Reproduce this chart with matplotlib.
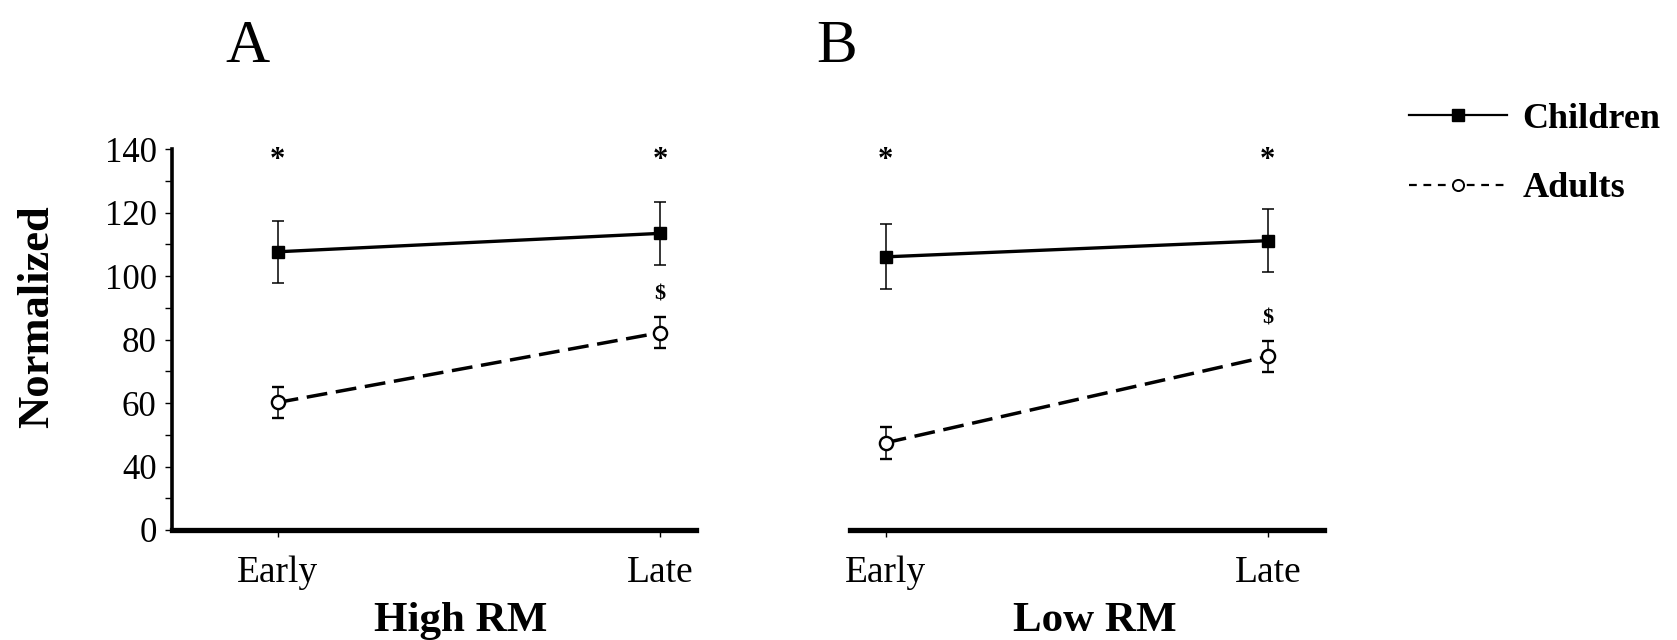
import matplotlib
matplotlib.use("Agg")
import matplotlib.pyplot as plt
from matplotlib.lines import Line2D

plt.rcParams["font.family"] = ["Liberation Serif", "DejaVu Serif"]

# values (normalized units)
phases = ["Early", "Late"]
x_pos = [0, 1]

children_high = [107.7, 113.5]
children_high_err = [9.7, 10.0]
adults_high = [60.2, 82.2]
adults_high_err = [5.0, 4.9]

children_low = [106.1, 111.2]
children_low_err = [10.2, 10.0]
adults_low = [47.5, 74.7]
adults_low_err = [5.0, 4.9]

ytick_vals = [20, 40, 60, 80, 100, 120, 140]
ytick_labels = ["0", "40", "60", "80", "100", "120", "140"]
ytick_minor = [30, 50, 70, 90, 110, 130]

STAR_Y = 136.6
DASH = (0, (6, 2.5))

W, H = 1677, 640


def draw_panel(ax, children, children_err, adults, adults_err, xlim, xlabel, label_x):
    ax.errorbar(
        x_pos, children, yerr=children_err,
        color="black", lw=2.4, marker="s", ms=9,
        ecolor="black", elinewidth=1.1, capsize=4, capthick=1.1, zorder=3,
    )
    ax.errorbar(
        x_pos, adults, yerr=adults_err,
        color="black", lw=2.5, ls=DASH, marker="o", ms=9.5,
        mfc="white", mec="black", mew=1.7,
        ecolor="black", elinewidth=1.1, capsize=4, capthick=1.1, zorder=3,
    )

    # significance marks
    for x in x_pos:
        ax.text(x, STAR_Y, "*", ha="center", va="center",
                fontsize=22, fontweight="bold")
    ax.text(x_pos[1], adults[1] + adults_err[1] + 7, "$", ha="center",
            va="center", fontsize=16, fontweight="bold", parse_math=False)

    ax.set_xlim(*xlim)
    ax.set_ylim(20, 140)
    ax.set_xticks(x_pos, phases)
    ax.tick_params(axis="x", direction="out", length=5, width=1,
                   labelsize=27, pad=13)

    ax.spines["top"].set_visible(False)
    ax.spines["right"].set_visible(False)
    ax.spines["bottom"].set_linewidth(3.8)

    ax.set_xlabel(xlabel, fontsize=31, fontweight="bold", va="top")
    ax.xaxis.set_label_coords(label_x, -0.189)


fig = plt.figure(figsize=(W / 100, H / 100), dpi=100)
ax_a = fig.add_axes([172 / W, 110 / H, 524 / W, 380.7 / H])
ax_b = fig.add_axes([850 / W, 110 / H, 474 / W, 380.7 / H])

draw_panel(ax_a, children_high, children_high_err, adults_high, adults_high_err,
           (-0.2765, 1.094), "High RM", 0.5515)
draw_panel(ax_b, children_low, children_low_err, adults_low, adults_low_err,
           (-0.0935, 1.147), "Low RM", 0.517)

# left panel y axis
ax_a.spines["left"].set_linewidth(2.6)
ax_a.set_yticks(ytick_vals, ytick_labels)
ax_a.set_yticks(ytick_minor, minor=True)
ax_a.tick_params(axis="y", which="both", direction="out", length=5, width=1,
                 labelsize=25, pad=6)

# right panel has no y axis
ax_b.spines["left"].set_visible(False)
ax_b.tick_params(axis="y", which="both", left=False, labelleft=False)

fig.text(37 / W, 1 - 317 / H, "Normalized", rotation=90, ha="center",
         va="center", fontsize=32, fontweight="bold")

fig.text(248 / W, 1 - 62 / H, "A", ha="center", va="baseline", fontsize=44)
fig.text(837 / W, 1 - 62 / H, "B", ha="center", va="baseline", fontsize=44)

handles = [
    Line2D([], [], color="black", lw=1.6, marker="s", ms=8),
    Line2D([], [], color="black", lw=1.6, ls=(0, (3.5, 3)), marker="o", ms=8,
           mfc="white", mew=1.4),
]
fig.legend(
    handles, ["Children", "Adults"],
    loc="center left", bbox_to_anchor=(1409 / W, 1 - 154 / H),
    frameon=False, borderpad=0, borderaxespad=0,
    handlelength=2.7, handletextpad=0.45, labelspacing=1.0,
    prop={"weight": "bold", "size": 26},
)

fig.savefig("out.png", dpi=100)
